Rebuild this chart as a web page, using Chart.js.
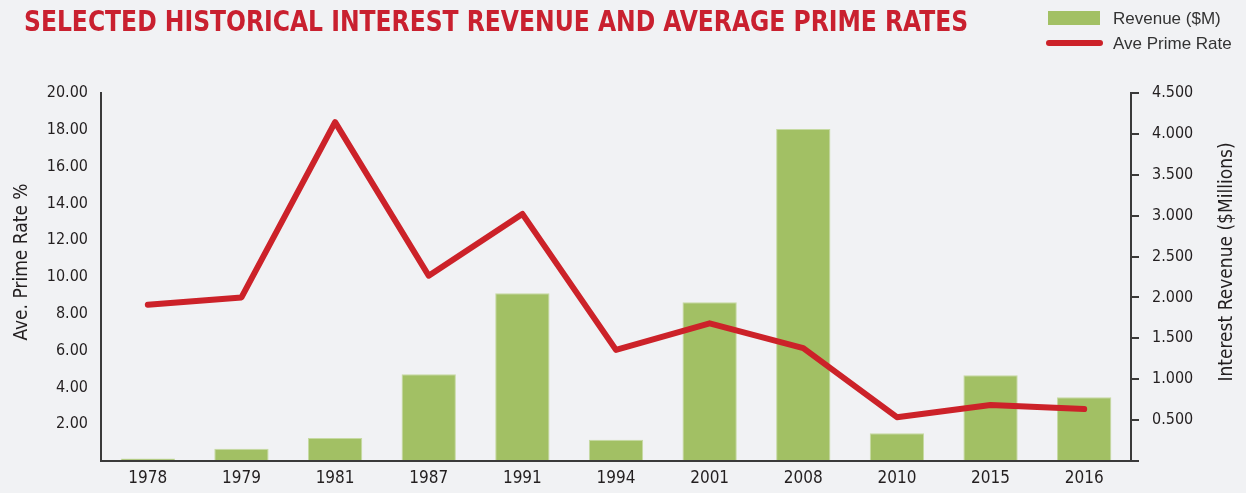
<!DOCTYPE html>
<html lang="en">
<head>
    <meta charset="UTF-8">
    <title>Selected Historical Interest Revenue and Average Prime Rates</title>
    <script src="https://cdn.jsdelivr.net/npm/chart.js"></script>
    <style>
        body {
            margin: 0;
            background: #f1f2f4;
            overflow: hidden;
        }
        #wrap {
            position: relative;
            width: 1246px;
            height: 493px;
        }
        #chartTitle {
            position: absolute;
            left: 24px;
            top: 7px;
            font: bold 29px/29px "DejaVu Sans Condensed", "Liberation Sans", sans-serif;
            color: #c9202f;
            white-space: nowrap;
            transform-origin: left top;
            z-index: 2;
        }
        .legend-item {
            position: absolute;
            left: 1113px;
            font: 17px/17px "Liberation Sans", "DejaVu Sans", sans-serif;
            color: #333;
            white-space: nowrap;
            z-index: 2;
        }
        .swatch-bar {
            position: absolute;
            left: 1048px;
            top: 11px;
            width: 52px;
            height: 14px;
            background: #a2c064;
            z-index: 2;
        }
        .swatch-line {
            position: absolute;
            left: 1046px;
            top: 40px;
            width: 57px;
            height: 6px;
            border-radius: 3px;
            background: #cc2229;
            z-index: 2;
        }
        #chartBox {
            position: absolute;
            left: 0;
            top: 0;
            width: 1246px;
            height: 493px;
        }
    </style>
</head>
<body>
<div id="wrap">
    <div id="chartTitle">SELECTED HISTORICAL INTEREST REVENUE AND AVERAGE PRIME RATES</div>
    <div class="swatch-bar"></div>
    <div class="legend-item" style="top: 10px;">Revenue ($M)</div>
    <div class="swatch-line"></div>
    <div class="legend-item" style="top: 35px;">Ave Prime Rate</div>
    <div id="chartBox"><canvas id="mixChart"></canvas></div>
</div>

<script>
    // values
    const years = ['1978', '1979', '1981', '1987', '1991', '1994', '2001', '2008', '2010', '2015', '2016'];
    const revenue = [0.03, 0.15, 0.28, 1.06, 2.05, 0.26, 1.94, 4.06, 0.34, 1.05, 0.78];
    const primeRate = [8.49, 8.89, 18.42, 10.07, 13.43, 6.04, 7.48, 6.13, 2.38, 3.04, 2.82];

    const leftTitle = 'Ave. Prime Rate %';
    const rightTitle = 'Interest Revenue ($Millions)';

    const narrow = '"DejaVu Sans Condensed", "Liberation Sans", sans-serif';
    const axisColor = '#3a3a3a';
    const textColor = '#231f20';

    // squeeze the heading to the width it has in the original
    const titleEl = document.getElementById('chartTitle');
    titleEl.style.transform = 'scaleX(' + (944 / titleEl.offsetWidth) + ')';

    // both axis titles read bottom-to-top, so draw them by hand
    const axisTitles = {
        id: 'axisTitles',
        afterDraw(chart) {
            const c = chart.ctx;
            const midY = 262;
            c.save();
            c.fillStyle = textColor;
            c.font = '19px ' + narrow;
            c.textAlign = 'center';
            c.textBaseline = 'middle';
            [[22, leftTitle], [1227, rightTitle]].forEach(([x, t]) => {
                c.save();
                c.translate(x, midY);
                c.rotate(-Math.PI / 2);
                c.fillText(t, 0, 0);
                c.restore();
            });
            c.restore();
        }
    };

    const ctx = document.getElementById('mixChart').getContext('2d');
    const chart = new Chart(ctx, {
        data: {
            labels: years,
            datasets: [{
                type: 'line',
                label: 'Ave Prime Rate',
                data: primeRate,
                yAxisID: 'yRate',
                borderColor: '#cc2229',
                borderWidth: 6,
                borderCapStyle: 'round',
                borderJoinStyle: 'round',
                pointRadius: 0,
                tension: 0,
                fill: false,
                order: 0
            }, {
                type: 'bar',
                label: 'Revenue ($M)',
                data: revenue,
                yAxisID: 'yRev',
                backgroundColor: '#a2c064',
                borderColor: '#c6daa2',
                borderWidth: 1,
                barPercentage: 0.58,
                categoryPercentage: 1.0,
                order: 1
            }]
        },
        options: {
            responsive: true,
            maintainAspectRatio: false,
            animation: false,
            layout: { padding: { top: 93, right: 0, bottom: 0, left: 0 } },
            plugins: {
                legend: { display: false },
                tooltip: { enabled: false }
            },
            scales: {
                x: {
                    grid: { display: false, drawTicks: false },
                    border: { display: true, color: axisColor, width: 2 },
                    ticks: {
                        color: textColor,
                        padding: 7,
                        font: { family: narrow, size: 17 }
                    },
                    afterFit: s => { s.height = 32; }
                },
                yRate: {
                    position: 'left',
                    min: 0,
                    max: 20,
                    grid: { display: false, drawTicks: false },
                    border: { display: true, color: axisColor, width: 2 },
                    ticks: {
                        stepSize: 2,
                        color: textColor,
                        padding: 13,
                        font: { family: narrow, size: 16 },
                        callback: v => v === 0 ? '' : v.toFixed(2)
                    },
                    afterFit: s => { s.width = 101; }
                },
                yRev: {
                    position: 'right',
                    min: 0,
                    max: 4.5,
                    grid: {
                        display: true,
                        drawOnChartArea: false,
                        drawTicks: true,
                        tickLength: 8,
                        color: axisColor,
                        lineWidth: 2
                    },
                    border: { display: true, color: axisColor, width: 2 },
                    ticks: {
                        stepSize: 0.5,
                        color: textColor,
                        padding: 13,
                        font: { family: narrow, size: 16 },
                        callback: v => v === 0 ? '' : v.toFixed(3)
                    },
                    afterFit: s => { s.width = 115; }
                }
            }
        },
        plugins: [axisTitles]
    });
</script>
</body>
</html>
